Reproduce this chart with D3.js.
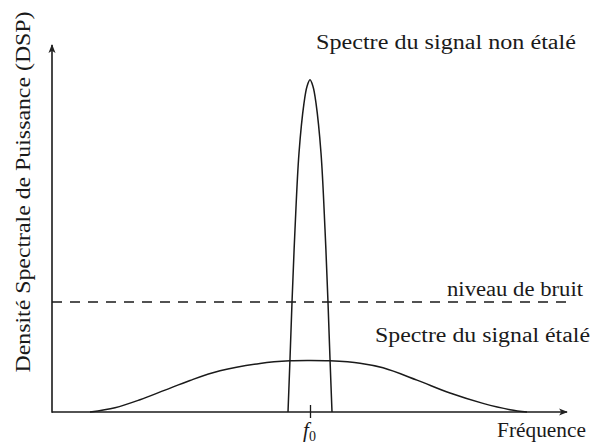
<!DOCTYPE html>
<html>
<head>
<meta charset="utf-8">
<script src="https://cdn.jsdelivr.net/npm/d3@7"></script>
<style>
  html, body { margin: 0; padding: 0; background: #fff; }
  svg { display: block; }
</style>
</head>
<body>
<svg id="chart" width="592" height="446"></svg>
<script>
// ---- data (frequency relative to f0, arbitrary units; DSP normalised to the narrow peak) ----
const narrowFreq = [-0.22, -0.20, -0.18, -0.15, -0.11, -0.06, -0.03, 0, 0.03, 0.06, 0.11, 0.15, 0.18, 0.20, 0.22];
const narrowDsp  = [0, 0.16, 0.33, 0.55, 0.78, 0.93, 0.98, 1.0, 0.98, 0.93, 0.78, 0.55, 0.33, 0.16, 0];

const wideFreq = [-2.20, -1.95, -1.70, -1.45, -1.20, -0.90, -0.50, -0.20, 0, 0.20, 0.50, 0.73, 1.07, 1.40, 1.73, 2.00, 2.17];
const wideDsp  = [0, 0.013, 0.037, 0.066, 0.095, 0.124, 0.146, 0.154, 0.155, 0.154, 0.147, 0.133, 0.096, 0.057, 0.026, 0.007, 0];

const noiseLevel = 0.331;
const freqRange = [-2.58, 2.57];
const dspRange = [0, 1.105];
const tickValues = [0];
const tickLabelMain = "f";
const tickLabelSub = "0";

const xLabel = "Fréquence";
const yLabel = "Densité Spectrale de Puissance (DSP)";
const labelNarrow = "Spectre du signal non étalé";
const labelNoise = "niveau de bruit";
const labelWide = "Spectre du signal étalé";

// ---- layout ----
const FONT = "Liberation Serif";
const TXT = "#1a1a1a";
const svg = d3.select("#chart");
const margin = { left: 52, right: 25, top: 45, bottom: 34 };
const W = 592, H = 446;

const x = d3.scaleLinear().domain(freqRange).range([margin.left, W - margin.right]);
const y = d3.scaleLinear().domain(dspRange).range([H - margin.bottom, margin.top]);

const defs = svg.append("defs");
defs.append("marker")
  .attr("id", "arrow")
  .attr("viewBox", "0 0 10 10")
  .attr("refX", 9).attr("refY", 5)
  .attr("markerWidth", 5.5).attr("markerHeight", 5.5)
  .attr("markerUnits", "strokeWidth")
  .attr("orient", "auto")
  .append("path")
  .attr("d", "M0,1 L10,5 L0,9 L2.5,5 Z")
  .attr("fill", "#222");

const stroke = "#1a1a1a";

// noise level (dashed)
svg.append("line")
  .attr("x1", x(freqRange[0])).attr("x2", x(freqRange[1]) + 1)
  .attr("y1", y(noiseLevel)).attr("y2", y(noiseLevel))
  .attr("stroke", stroke).attr("stroke-width", 1.4)
  .attr("stroke-dasharray", "10,8");

// curves
const smooth = d3.line().x(d => x(d[0])).y(d => y(d[1])).curve(d3.curveCatmullRom.alpha(0.5));

svg.append("path")
  .datum(wideFreq.map((f, i) => [f, wideDsp[i]]))
  .attr("d", smooth)
  .attr("fill", "none").attr("stroke", stroke).attr("stroke-width", 1.5);

svg.append("path")
  .datum(narrowFreq.map((f, i) => [f, narrowDsp[i]]))
  .attr("d", smooth)
  .attr("fill", "none").attr("stroke", stroke).attr("stroke-width", 1.5);

// x axis with tick at f0
const xAxis = d3.axisBottom(x).tickValues(tickValues).tickSizeInner(6).tickSizeOuter(0).tickFormat("");
const gx = svg.append("g").attr("transform", `translate(0,${y(0)})`).call(xAxis);
gx.attr("font-family", FONT);
gx.select(".domain").remove();
gx.selectAll(".tick line").attr("y1", -7).attr("stroke", stroke).attr("stroke-width", 1.3);
gx.selectAll(".tick").append("text")
  .attr("y", 25).attr("x", -1)
  .attr("text-anchor", "middle")
  .attr("font-family", FONT).attr("fill", TXT)
  .attr("font-size", 21)
  .call(t => {
    t.append("tspan").attr("font-style", "italic").text(tickLabelMain);
    t.append("tspan").attr("dy", 4).attr("font-size", 14).text(tickLabelSub);
  });

svg.append("line")
  .attr("x1", x(freqRange[0])).attr("x2", x(freqRange[1]))
  .attr("y1", y(0)).attr("y2", y(0))
  .attr("stroke", stroke).attr("stroke-width", 1.6)
  .attr("marker-end", "url(#arrow)");

// y axis
svg.append("line")
  .attr("x1", x(freqRange[0])).attr("x2", x(freqRange[0]))
  .attr("y1", y(0) + 0.8).attr("y2", y(dspRange[1]))
  .attr("stroke", stroke).attr("stroke-width", 1.6)
  .attr("marker-end", "url(#arrow)");

// labels
function label(txt, px, py, size, len, transform) {
  const t = svg.append("text")
    .attr("font-family", FONT)
    .attr("fill", TXT)
    .attr("font-size", size)
    .attr("textLength", len).attr("lengthAdjust", "spacingAndGlyphs")
    .text(txt);
  if (transform) t.attr("transform", transform).attr("text-anchor", "middle");
  else t.attr("x", px).attr("y", py);
  return t;
}
label(xLabel, 497, 437, 20, 89);
label(yLabel, 0, 0, 21, 361, "translate(30,192) rotate(-90)");
label(labelNarrow, 316, 49, 20, 260);
label(labelNoise, 447, 296, 20, 136);
label(labelWide, 375, 342, 20, 215);
</script>
</body>
</html>
